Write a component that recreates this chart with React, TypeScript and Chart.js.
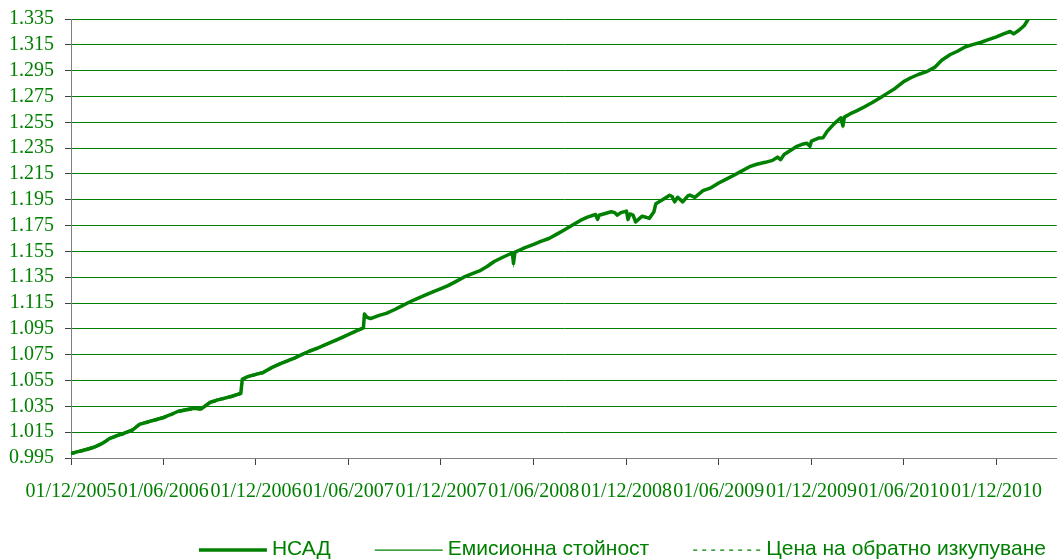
import React, { useEffect, useRef } from 'react';
import { Chart, registerables } from 'chart.js';

Chart.register(...registerables);

const GREEN = '#008000';

const seriesNames = ['НСАД', 'Емисионна стойност', 'Цена на обратно изкупуване'];

const tickDates = [
  '2005-12-01', '2006-06-01', '2006-12-01', '2007-06-01', '2007-12-01', '2008-06-01',
  '2008-12-01', '2009-06-01', '2009-12-01', '2010-06-01', '2010-12-01',
];
const tickLabels = [
  '01/12/2005', '01/06/2006', '01/12/2006', '01/06/2007', '01/12/2007', '01/06/2008',
  '01/12/2008', '01/06/2009', '01/12/2009', '01/06/2010', '01/12/2010',
];
const yTicks = [
  0.995, 1.015, 1.035, 1.055, 1.075, 1.095, 1.115, 1.135, 1.155, 1.175,
  1.195, 1.215, 1.235, 1.255, 1.275, 1.295, 1.315, 1.335,
];
const yMin = 0.995;
const yMax = 1.335;
const xMaxDate = '2011-03-30';

const dates = [
  '2005-12-01', '2005-12-15', '2006-01-01', '2006-01-15', '2006-02-01', '2006-02-15', '2006-03-01', '2006-03-15', '2006-04-01', '2006-04-15',
  '2006-05-01', '2006-05-15', '2006-06-01', '2006-06-15', '2006-07-01', '2006-07-15', '2006-08-01', '2006-08-15', '2006-09-01', '2006-09-15',
  '2006-10-01', '2006-10-15', '2006-11-01', '2006-11-04', '2006-11-15', '2006-12-01', '2006-12-15', '2007-01-01', '2007-01-15', '2007-02-01',
  '2007-02-15', '2007-03-01', '2007-03-15', '2007-04-01', '2007-04-15', '2007-05-01', '2007-05-15', '2007-06-01', '2007-06-15', '2007-07-01',
  '2007-07-03', '2007-07-08', '2007-07-15', '2007-08-01', '2007-08-15', '2007-09-01', '2007-09-15', '2007-10-01', '2007-10-15', '2007-11-01',
  '2007-11-15', '2007-12-01', '2007-12-15', '2008-01-01', '2008-01-15', '2008-02-01', '2008-02-15', '2008-03-01', '2008-03-15', '2008-04-01',
  '2008-04-15', '2008-04-20', '2008-04-22', '2008-04-25', '2008-05-01', '2008-05-15', '2008-06-01', '2008-06-15', '2008-07-01', '2008-07-15',
  '2008-08-01', '2008-08-15', '2008-09-01', '2008-09-15', '2008-10-01', '2008-10-05', '2008-10-08', '2008-10-15', '2008-11-01', '2008-11-08',
  '2008-11-13', '2008-11-20', '2008-12-01', '2008-12-04', '2008-12-08', '2008-12-14', '2008-12-19', '2009-01-01', '2009-01-08', '2009-01-15',
  '2009-01-24', '2009-01-28', '2009-02-15', '2009-02-24', '2009-03-01', '2009-03-06', '2009-03-12', '2009-03-22', '2009-04-01', '2009-04-05',
  '2009-04-15', '2009-05-01', '2009-05-15', '2009-06-01', '2009-06-15', '2009-07-01', '2009-07-15', '2009-08-01', '2009-08-15', '2009-09-01',
  '2009-09-15', '2009-09-25', '2009-10-01', '2009-10-08', '2009-10-15', '2009-11-01', '2009-11-15', '2009-11-22', '2009-11-28', '2009-12-01',
  '2009-12-15', '2009-12-24', '2010-01-01', '2010-01-15', '2010-01-28', '2010-02-01', '2010-02-04', '2010-02-15', '2010-03-01', '2010-03-15',
  '2010-04-01', '2010-04-15', '2010-05-01', '2010-05-15', '2010-06-01', '2010-06-15', '2010-07-01', '2010-07-15', '2010-08-01', '2010-08-15',
  '2010-09-01', '2010-09-15', '2010-10-01', '2010-10-15', '2010-11-01', '2010-11-15', '2010-12-01', '2010-12-15', '2010-12-28', '2011-01-04',
  '2011-01-15', '2011-01-25', '2011-02-01',
];

const nav = [
  0.9985, 0.9999, 1.0016, 1.0033, 1.0063, 1.0100, 1.0122, 1.0140, 1.0165, 1.0210,
  1.0228, 1.0244, 1.0262, 1.0285, 1.0312, 1.0322, 1.0335, 1.0330, 1.0380, 1.0398,
  1.0414, 1.0428, 1.0450, 1.0560, 1.0580, 1.0598, 1.0612, 1.0650, 1.0675, 1.0702,
  1.0724, 1.0750, 1.0775, 1.0800, 1.0824, 1.0851, 1.0875, 1.0905, 1.0930, 1.0957,
  1.1065, 1.1040, 1.1030, 1.1055, 1.1070, 1.1100, 1.1128, 1.1160, 1.1185, 1.1213,
  1.1236, 1.1262, 1.1285, 1.1320, 1.1350, 1.1378, 1.1399, 1.1433, 1.1472, 1.1505,
  1.1530, 1.1535, 1.1457, 1.1545, 1.1555, 1.1580, 1.1604, 1.1627, 1.1650, 1.1680,
  1.1718, 1.1750, 1.1790, 1.1815, 1.1836, 1.1798, 1.1830, 1.1838, 1.1857, 1.1850,
  1.1831, 1.1850, 1.1862, 1.1798, 1.1840, 1.1831, 1.1779, 1.1823, 1.1815, 1.1806,
  1.1855, 1.1920, 1.1962, 1.1985, 1.1975, 1.1934, 1.1969, 1.1934, 1.1980, 1.1986,
  1.1969, 1.2020, 1.2040, 1.2080, 1.2108, 1.2140, 1.2170, 1.2206, 1.2225, 1.2240,
  1.2255, 1.2280, 1.2260, 1.2300, 1.2318, 1.2361, 1.2382, 1.2388, 1.2365, 1.2405,
  1.2428, 1.2431, 1.2480, 1.2540, 1.2585, 1.2522, 1.2590, 1.2615, 1.2640, 1.2668,
  1.2705, 1.2738, 1.2778, 1.2812, 1.2865, 1.2895, 1.2922, 1.2940, 1.2975, 1.3030,
  1.3075, 1.3100, 1.3135, 1.3152, 1.3170, 1.3190, 1.3212, 1.3235, 1.3253, 1.3235,
  1.3265, 1.3300, 1.3344,
];

const emission = [
  0.9995, 1.0006, 1.0027, 1.0040, 1.0071, 1.0108, 1.0131, 1.0148, 1.0175, 1.0217,
  1.0238, 1.0251, 1.0272, 1.0293, 1.0320, 1.0332, 1.0343, 1.0340, 1.0388, 1.0407,
  1.0422, 1.0437, 1.0458, 1.0568, 1.0588, 1.0606, 1.0620, 1.0657, 1.0683, 1.0709,
  1.0731, 1.0757, 1.0782, 1.0807, 1.0831, 1.0858, 1.0882, 1.0911, 1.0936, 1.0963,
  1.1065, 1.1040, 1.1030, 1.1055, 1.1070, 1.1100, 1.1128, 1.1160, 1.1185, 1.1213,
  1.1236, 1.1262, 1.1285, 1.1320, 1.1350, 1.1378, 1.1399, 1.1433, 1.1472, 1.1505,
  1.1530, 1.1535, 1.1457, 1.1545, 1.1555, 1.1580, 1.1604, 1.1627, 1.1650, 1.1680,
  1.1718, 1.1750, 1.1790, 1.1815, 1.1836, 1.1798, 1.1830, 1.1838, 1.1857, 1.1850,
  1.1831, 1.1850, 1.1862, 1.1798, 1.1840, 1.1831, 1.1779, 1.1823, 1.1815, 1.1806,
  1.1855, 1.1920, 1.1962, 1.1985, 1.1975, 1.1934, 1.1969, 1.1934, 1.1980, 1.1986,
  1.1969, 1.2020, 1.2040, 1.2080, 1.2108, 1.2140, 1.2170, 1.2206, 1.2225, 1.2240,
  1.2255, 1.2280, 1.2260, 1.2300, 1.2318, 1.2361, 1.2382, 1.2388, 1.2365, 1.2405,
  1.2428, 1.2431, 1.2480, 1.2540, 1.2585, 1.2522, 1.2590, 1.2615, 1.2640, 1.2668,
  1.2705, 1.2738, 1.2778, 1.2812, 1.2865, 1.2895, 1.2922, 1.2940, 1.2975, 1.3030,
  1.3075, 1.3100, 1.3135, 1.3152, 1.3170, 1.3190, 1.3212, 1.3235, 1.3253, 1.3235,
  1.3265, 1.3300, 1.3344,
];

const redemption = [
  0.9977, 0.9990, 1.0008, 1.0024, 1.0055, 1.0091, 1.0114, 1.0131, 1.0157, 1.0201,
  1.0220, 1.0235, 1.0254, 1.0276, 1.0304, 1.0313, 1.0327, 1.0321, 1.0372, 1.0389,
  1.0406, 1.0419, 1.0442, 1.0552, 1.0572, 1.0590, 1.0604, 1.0643, 1.0667, 1.0695,
  1.0717, 1.0743, 1.0768, 1.0793, 1.0817, 1.0844, 1.0868, 1.0899, 1.0924, 1.0951,
  1.1065, 1.1040, 1.1030, 1.1055, 1.1070, 1.1100, 1.1128, 1.1160, 1.1185, 1.1213,
  1.1236, 1.1262, 1.1285, 1.1320, 1.1350, 1.1378, 1.1399, 1.1433, 1.1472, 1.1505,
  1.1530, 1.1535, 1.1457, 1.1545, 1.1555, 1.1580, 1.1604, 1.1627, 1.1650, 1.1680,
  1.1718, 1.1750, 1.1790, 1.1815, 1.1836, 1.1798, 1.1830, 1.1838, 1.1857, 1.1850,
  1.1831, 1.1850, 1.1862, 1.1798, 1.1840, 1.1831, 1.1779, 1.1823, 1.1815, 1.1806,
  1.1855, 1.1920, 1.1962, 1.1985, 1.1975, 1.1934, 1.1969, 1.1934, 1.1980, 1.1986,
  1.1969, 1.2020, 1.2040, 1.2080, 1.2108, 1.2140, 1.2170, 1.2206, 1.2225, 1.2240,
  1.2255, 1.2280, 1.2260, 1.2300, 1.2318, 1.2361, 1.2382, 1.2388, 1.2365, 1.2405,
  1.2428, 1.2431, 1.2480, 1.2540, 1.2585, 1.2522, 1.2590, 1.2615, 1.2640, 1.2668,
  1.2705, 1.2738, 1.2778, 1.2812, 1.2865, 1.2895, 1.2922, 1.2940, 1.2975, 1.3030,
  1.3075, 1.3100, 1.3135, 1.3152, 1.3170, 1.3190, 1.3212, 1.3235, 1.3253, 1.3235,
  1.3265, 1.3300, 1.3344,
];

function dayIndex(s: string): number {
  const [y, m, d] = s.split('-').map(Number);
  return (Date.UTC(y, m - 1, d) - Date.UTC(2005, 11, 1)) / 86400000;
}

function toPoints(values: number[]) {
  return values.map((v, i) => ({ x: dayIndex(dates[i]), y: v }));
}

const legendPlugin = {
  id: 'bottomLegend',
  afterDraw(chart: any) {
    const ctx: CanvasRenderingContext2D = chart.ctx;
    ctx.save();
    ctx.font = '21px "Liberation Sans", Arial, sans-serif';
    const lineLen = 68;
    const textGap = 5;
    const itemGap = 44;
    const items = chart.data.datasets.map((ds: any) => ({ ds, w: ctx.measureText(ds.label).width }));
    const total = items.reduce((s: number, it: any) => s + lineLen + textGap + it.w, 0) + itemGap * (items.length - 1);
    let x = chart.width - 11 - total;
    const y = chart.height - 9;
    for (const it of items) {
      ctx.beginPath();
      ctx.strokeStyle = it.ds.borderColor;
      ctx.lineWidth = it.ds.borderWidth;
      ctx.setLineDash(it.ds.borderDash || []);
      ctx.moveTo(x, y);
      ctx.lineTo(x + lineLen, y);
      ctx.stroke();
      ctx.setLineDash([]);
      ctx.fillStyle = GREEN;
      ctx.textBaseline = 'middle';
      ctx.textAlign = 'left';
      ctx.fillText(it.ds.label, x + lineLen + textGap, y - 1);
      x += lineLen + textGap + it.w + itemGap;
    }
    ctx.restore();
  },
};

export default function App() {
  const canvasRef = useRef<HTMLCanvasElement | null>(null);

  useEffect(() => {
    document.body.style.margin = '0';
    const canvas = canvasRef.current;
    if (!canvas) return;
    const chart = new Chart(canvas, {
      type: 'line',
      data: {
        datasets: [
          {
            label: seriesNames[0],
            data: toPoints(nav),
            borderColor: GREEN,
            backgroundColor: GREEN,
            borderWidth: 3.5,
            pointRadius: 0,
            tension: 0,
            borderJoinStyle: 'round',
            borderCapStyle: 'round',
          },
          {
            label: seriesNames[1],
            data: toPoints(emission),
            borderColor: GREEN,
            backgroundColor: GREEN,
            borderWidth: 1.25,
            pointRadius: 0,
            tension: 0,
          },
          {
            label: seriesNames[2],
            data: toPoints(redemption),
            borderColor: GREEN,
            backgroundColor: GREEN,
            borderWidth: 1.25,
            borderDash: [4, 5],
            pointRadius: 0,
            tension: 0,
          },
        ],
      },
      options: {
        animation: false,
        responsive: false,
        maintainAspectRatio: false,
        devicePixelRatio: 1,
        layout: { padding: { top: 19, right: 0, bottom: 57, left: 0 } },
        plugins: { legend: { display: false }, tooltip: { enabled: false } },
        scales: {
          x: {
            type: 'linear',
            min: 0,
            max: dayIndex(xMaxDate),
            afterBuildTicks: (s: any) => {
              s.ticks = tickDates.map((d) => ({ value: dayIndex(d) }));
            },
            afterFit: (s: any) => {
              s.height = 44;
            },
            ticks: {
              autoSkip: false,
              maxRotation: 0,
              minRotation: 0,
              padding: 15,
              color: GREEN,
              font: { family: '"Liberation Serif", "Times New Roman", serif', size: 20 },
              callback: (_v: any, i: number) => tickLabels[i],
            },
            grid: { drawOnChartArea: false, drawTicks: true, tickLength: 7, tickColor: '#404040' },
            border: { color: '#808080', width: 1 },
          },
          y: {
            type: 'linear',
            min: yMin,
            max: yMax,
            afterBuildTicks: (s: any) => {
              s.ticks = yTicks.map((v) => ({ value: v }));
            },
            afterFit: (s: any) => {
              s.width = 71;
              s.paddingTop = 0;
              s.paddingBottom = 0;
            },
            ticks: {
              autoSkip: false,
              padding: 11,
              color: GREEN,
              font: { family: '"Liberation Serif", "Times New Roman", serif', size: 20 },
              callback: (v: any) => Number(v).toFixed(3),
            },
            grid: { color: GREEN, lineWidth: 1, drawTicks: true, tickLength: 6, tickColor: '#404040' },
            border: { color: '#808080', width: 1 },
          },
        },
      },
      plugins: [legendPlugin],
    });
    return () => chart.destroy();
  }, []);

  return (
    <div style={{ width: 1057, height: 559 }}>
      <canvas ref={canvasRef} width={1057} height={559} style={{ display: 'block' }} />
    </div>
  );
}
